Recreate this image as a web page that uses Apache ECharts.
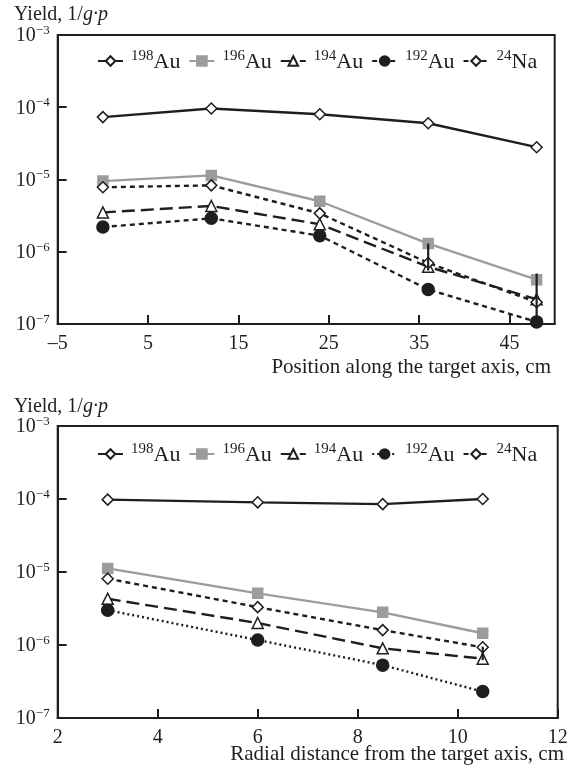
<!DOCTYPE html>
<html>
<head>
<meta charset="utf-8">
<script src="https://cdn.jsdelivr.net/npm/echarts@6/dist/echarts.min.js"></script>
<style>
html,body{margin:0;padding:0;background:#fff;}
#chart{width:571px;height:776px;}
</style>
</head>
<body>
<div id="chart"></div>
<script>
// ---- data ----
var seriesNames = ['198Au', '196Au', '194Au', '192Au', '24Na'];
var yTickLabels = [1e-7, 1e-6, 1e-5, 1e-4, 1e-3];

var xTop = [0, 12, 24, 36, 48];
var xTopTicks = [-5, 5, 15, 25, 35, 45];
var topAu198 = [7.3e-5, 9.6e-5, 8.0e-5, 6.0e-5, 2.8e-5];
var topAu196 = [9.5e-6, 1.14e-5, 5.0e-6, 1.3e-6, 4.1e-7];
var topAu194 = [3.5e-6, 4.3e-6, 2.4e-6, 6.2e-7, 2.2e-7];
var topAu192 = [2.2e-6, 2.9e-6, 1.67e-6, 3.0e-7, 1.07e-7];
var topNa24  = [7.8e-6, 8.3e-6, 3.4e-6, 7.0e-7, 2.0e-7];
// vertical error bars (x, low, high)
var topErrX    = [36, 48];
var topErrLow  = [5.5e-7, 1.05e-7];
var topErrHigh = [1.3e-6, 5.0e-7];

var xBottom = [3, 6, 8.5, 10.5];
var xBottomTicks = [2, 4, 6, 8, 10, 12];
var botAu198 = [9.8e-5, 9.0e-5, 8.5e-5, 1.0e-4];
var botAu196 = [1.12e-5, 5.1e-6, 2.8e-6, 1.45e-6];
var botAu194 = [4.3e-6, 2.0e-6, 9.0e-7, 6.5e-7];
var botAu192 = [3.0e-6, 1.17e-6, 5.3e-7, 2.3e-7];
var botNa24  = [8.1e-6, 3.3e-6, 1.6e-6, 9.3e-7];
var botErrX    = [10.5];
var botErrLow  = [6.2e-7];
var botErrHigh = [9.5e-7];

var topTitleX = 'Position along the target axis, cm';
var bottomTitleX = 'Radial distance from the target axis, cm';

// ---- build ----
var FONT = 'Liberation Serif';
var INK = '#1e1e1e';
var GRAY = '#9c9c9c';

function pairs(xs, ys) { return xs.map(function (x, i) { return [x, ys[i]]; }); }

var styles = {
  '198Au': { color: INK, type: 'solid', symbol: 'diamond', size: 11, fill: '#fff' },
  '196Au': { color: GRAY, type: 'solid', symbol: 'rect', size: 10, fill: GRAY },
  '194Au': { color: INK, type: [13, 6], symbol: 'triangle', size: 11, fill: '#fff' },
  '192Au': { color: INK, type: [5, 4], symbol: 'circle', size: 12, fill: INK },
  '24Na':  { color: INK, type: [5, 4], symbol: 'diamond', size: 11, fill: '#fff' }
};

function mkSeries(name, xs, ys, idx, dashOverride) {
  var st = styles[name];
  return {
    name: name,
    type: 'line',
    xAxisIndex: idx, yAxisIndex: idx,
    data: pairs(xs, ys),
    symbol: st.symbol,
    symbolSize: st.size,
    showAllSymbol: true,
    lineStyle: { color: st.color, width: 2.4, type: dashOverride || st.type },
    itemStyle: { color: st.fill, borderColor: st.color, borderWidth: 1.5 },
    emphasis: { disabled: true },
    z: name === '196Au' ? 1 : 2
  };
}

function errSeries(idx, xs, lo, hi) {
  return {
    type: 'custom', xAxisIndex: idx, yAxisIndex: idx, silent: true, z: 3,
    data: xs.map(function (x, i) { return [x, lo[i], hi[i]]; }),
    renderItem: function (params, api) {
      var p1 = api.coord([api.value(0), api.value(1)]);
      var p2 = api.coord([api.value(0), api.value(2)]);
      return { type: 'line', shape: { x1: p1[0], y1: p1[1], x2: p2[0], y2: p2[1] },
        style: { stroke: INK, lineWidth: 2.2 } };
    }
  };
}

var richLegend = {
  s: { fontSize: 15, fontFamily: FONT, color: INK, verticalAlign: 'top', lineHeight: 15 },
  n: { fontSize: 22, fontFamily: FONT, color: INK, verticalAlign: 'bottom', lineHeight: 24 }
};
function legendFmt(name) {
  var m = name.match(/^(\d+)(\D+)$/);
  return '{s|' + m[1] + '}{n|' + m[2] + '}';
}
function yFmt(v) {
  var e = Math.round(Math.log10(v));
  return '{b|10}{s|' + (e < 0 ? '\u2212' + (-e) : e) + '}';
}
var richY = {
  b: { fontSize: 20, fontFamily: FONT, color: INK, verticalAlign: 'bottom', lineHeight: 22 },
  s: { fontSize: 13, fontFamily: FONT, color: INK, verticalAlign: 'top', lineHeight: 14 }
};

function xAxis(idx, min, max, ticks) {
  return {
    type: 'value', gridIndex: idx, min: min, max: max,
    axisLine: { show: true, onZero: false, lineStyle: { color: INK, width: 2 } },
    axisTick: { show: true, inside: true, length: 9, lineStyle: { color: INK, width: 2 }, customValues: ticks },
    axisLabel: {
      customValues: ticks, margin: 10, fontSize: 20, fontFamily: FONT, color: INK,
      formatter: function (v) { return v < 0 ? '\u2013' + Math.abs(v) : String(v); }
    },
    splitLine: { show: false }
  };
}
function yAxis(idx) {
  return {
    type: 'log', logBase: 10, gridIndex: idx, min: yTickLabels[0], max: yTickLabels[yTickLabels.length - 1],
    axisLine: { show: true, onZero: false, lineStyle: { color: INK, width: 2 } },
    axisTick: { show: true, inside: true, length: 9, lineStyle: { color: INK, width: 2 } },
    axisLabel: { margin: 8, formatter: yFmt, rich: richY, showMinLabel: true, showMaxLabel: true },
    minorTick: { show: false },
    splitLine: { show: false }
  };
}

var legendCommon = {
  orient: 'horizontal', itemWidth: 25, itemHeight: 12, itemGap: 8,
  formatter: legendFmt, textStyle: { rich: richLegend, padding: [0, 0, 0, 3] },
  selectedMode: false
};

var yName = { n: { fontSize: 20, fontFamily: FONT, fill: INK }, i: { fontSize: 20, fontFamily: FONT, fontStyle: 'italic', fill: INK } };

var option = {
  animation: false,
  backgroundColor: '#fff',
  grid: [
    { left: 57.7, top: 35, width: 497, height: 289, show: true, borderColor: INK, borderWidth: 2, backgroundColor: 'transparent' },
    { left: 57.7, top: 426, width: 500, height: 292, show: true, borderColor: INK, borderWidth: 2, backgroundColor: 'transparent' }
  ],
  xAxis: [ xAxis(0, -5, 50, xTopTicks), xAxis(1, 2, 12, xBottomTicks) ],
  yAxis: [ yAxis(0), yAxis(1) ],
  legend: [
    Object.assign({}, legendCommon, { left: 92, top: 44, data: seriesNames.slice() }),
    Object.assign({}, legendCommon, { left: 92, top: 437, data: seriesNames.map(function (n) {
      return n === '192Au' ? { name: n, lineStyle: { type: [2, 3] } } : { name: n };
    }) })
  ],
  graphic: [
    { type: 'text', left: 14, top: 5, style: { text: '{n|Yield, 1/}{i|g\u00b7p}', rich: yName } },
    { type: 'text', left: 14, top: 397, style: { text: '{n|Yield, 1/}{i|g\u00b7p}', rich: yName } },
    { type: 'text', right: 20, top: 357, style: { text: topTitleX, fontSize: 21, fontFamily: FONT, fill: INK } },
    { type: 'text', right: 7, top: 744, style: { text: bottomTitleX, fontSize: 21, fontFamily: FONT, fill: INK } }
  ],
  series: [
    mkSeries('198Au', xTop, topAu198, 0),
    mkSeries('196Au', xTop, topAu196, 0),
    mkSeries('194Au', xTop, topAu194, 0),
    mkSeries('192Au', xTop, topAu192, 0),
    mkSeries('24Na', xTop, topNa24, 0),
    errSeries(0, topErrX, topErrLow, topErrHigh),
    mkSeries('198Au', xBottom, botAu198, 1),
    mkSeries('196Au', xBottom, botAu196, 1),
    mkSeries('194Au', xBottom, botAu194, 1),
    mkSeries('192Au', xBottom, botAu192, 1, [2, 3]),
    mkSeries('24Na', xBottom, botNa24, 1),
    errSeries(1, botErrX, botErrLow, botErrHigh)
  ]
};

var chart = echarts.init(document.getElementById('chart'), null, { renderer: 'canvas' });
chart.setOption(option);
</script>
</body>
</html>
